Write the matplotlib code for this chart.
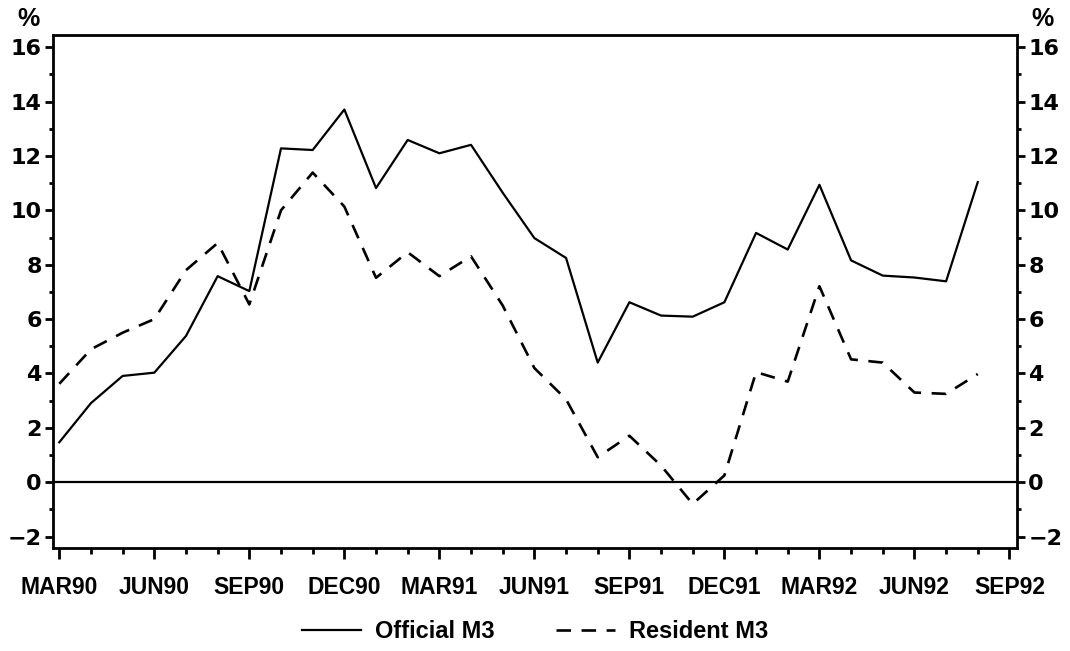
import matplotlib
matplotlib.use("Agg")
import matplotlib.pyplot as plt
from matplotlib.ticker import MultipleLocator

plt.rcParams['font.family'] = ['Liberation Sans', 'DejaVu Sans']
plt.rcParams['font.weight'] = 'bold'

months = list(range(30))  # MAR90 .. AUG92
tick_labels = ["MAR90", "JUN90", "SEP90", "DEC90", "MAR91", "JUN91",
               "SEP91", "DEC91", "MAR92", "JUN92", "SEP92"]

official_m3 = [1.47, 2.91, 3.91, 4.03, 5.38, 7.58, 7.03, 12.28, 12.22, 13.71,
               10.82, 12.59, 12.10, 12.41, 10.65, 8.98, 8.25, 4.40, 6.62, 6.13,
               6.09, 6.62, 9.17, 8.56, 10.94, 8.16, 7.60, 7.53, 7.39, 11.04]
resident_m3 = [3.62, 4.89, 5.50, 6.00, 7.80, 8.80, 6.54, 10.00, 11.39, 10.14,
               7.52, 8.46, 7.58, 8.31, 6.50, 4.20, 3.05, 0.92, 1.71, 0.61,
               -0.80, 0.25, 4.05, 3.70, 7.21, 4.52, 4.40, 3.30, 3.25, 3.98]


def main():
    fig = plt.figure(figsize=(10.70, 6.51), dpi=100)
    ax = fig.add_axes([0.0495, 0.1582, 0.901, 0.788])

    ax.plot(months, official_m3, color='black', lw=1.6, label='Official M3')
    ax.plot(months, resident_m3, color='black', lw=1.9,
            linestyle=(0, (5.5, 4)), label='Resident M3')
    ax.axhline(0, color='black', lw=1.6)

    ax.set_xlim(-0.2, 30.24)
    ax.set_ylim(-2.42, 16.45)

    ax.set_xticks(range(0, 31, 3))
    ax.set_xticklabels(tick_labels)
    ax.xaxis.set_minor_locator(MultipleLocator(1))
    ax.yaxis.set_major_locator(MultipleLocator(2))
    ax.yaxis.set_minor_locator(MultipleLocator(1))

    for s in ax.spines.values():
        s.set_linewidth(2)

    ax.tick_params(axis='x', which='major', direction='out', length=8,
                   width=2, pad=12, labelsize=16.5)
    ax.tick_params(axis='x', which='minor', direction='out', length=4.5,
                   width=2)
    ax.tick_params(axis='y', which='major', direction='out', length=6,
                   width=2, pad=2, labelsize=16, right=True, labelright=True)
    ax.tick_params(axis='y', which='minor', direction='out', length=3,
                   width=2, right=True)
    for lab in ax.get_yticklabels(which='major'):
        lab.set_family('DejaVu Sans')
        lab.set_fontweight('bold')

    fig.text(28 / 1070, 1 - 19 / 651, '%', ha='center', va='center',
             fontsize=18, fontweight='bold')
    fig.text(1042 / 1070, 1 - 19 / 651, '%', ha='center', va='center',
             fontsize=18, fontweight='bold')

    fig.legend(loc='center', bbox_to_anchor=(0.5, 1 - 632 / 651), ncol=2,
               frameon=False, handlelength=2.5,
               handletextpad=0.6, columnspacing=2.6,
               prop={'weight': 'bold', 'size': 17})

    fig.savefig('out.png', dpi=100)


if __name__ == "__main__":
    main()
